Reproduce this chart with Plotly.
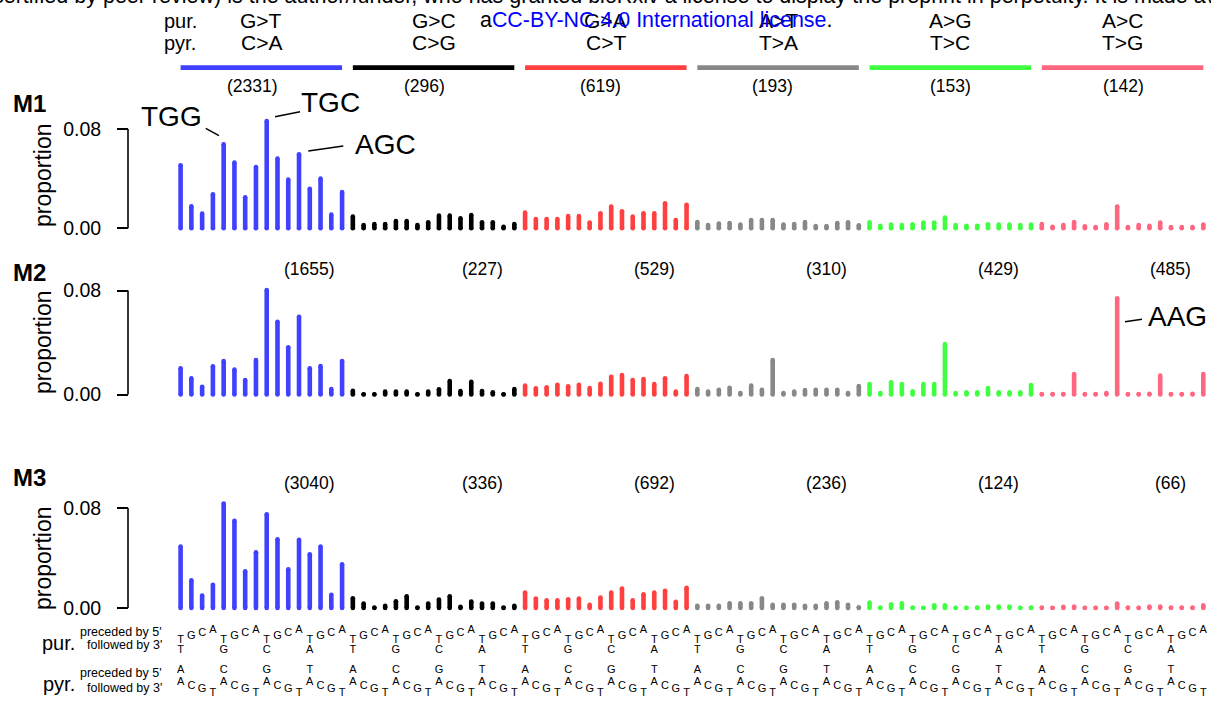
import plotly.graph_objects as go

W, H = 1211, 704

# ---------------- data ----------------
mut_pur = ["G>T", "G>C", "G>A", "A>T", "A>G", "A>C"]
mut_pyr = ["C>A", "C>G", "C>T", "T>A", "T>C", "T>G"]
group_colors = ["#4040FF", "#000000", "#FF4040", "#888888", "#40FF40", "#FF6680"]
bases_pur = ["T", "G", "C", "A"]
bases_pyr = ["A", "C", "G", "T"]

counts_M1 = [2331, 296, 619, 193, 153, 142]
counts_M2 = [1655, 227, 529, 310, 429, 485]
counts_M3 = [3040, 336, 692, 236, 124, 66]

M1_CA = [0.0508, 0.0177, 0.0118, 0.0274, 0.0677, 0.0529, 0.0250, 0.0494, 0.0865, 0.0561, 0.0392, 0.0596, 0.0319, 0.0400, 0.0110, 0.0293]
M1_CG = [0.0094, 0.0027, 0.0035, 0.0035, 0.0059, 0.0059, 0.0027, 0.0048, 0.0102, 0.0102, 0.0080, 0.0107, 0.0048, 0.0048, 0.0013, 0.0035]
M1_CT = [0.0126, 0.0075, 0.0075, 0.0075, 0.0099, 0.0099, 0.0046, 0.0121, 0.0175, 0.0137, 0.0094, 0.0121, 0.0120, 0.0201, 0.0067, 0.0190]
M1_TA = [0.0051, 0.0027, 0.0038, 0.0043, 0.0030, 0.0067, 0.0067, 0.0067, 0.0030, 0.0035, 0.0051, 0.0019, 0.0019, 0.0043, 0.0048, 0.0024]
M1_TC = [0.0048, 0.0021, 0.0030, 0.0027, 0.0032, 0.0046, 0.0046, 0.0086, 0.0027, 0.0021, 0.0021, 0.0032, 0.0030, 0.0030, 0.0027, 0.0030]
M1_TG = [0.0035, 0.0013, 0.0027, 0.0051, 0.0016, 0.0010, 0.0032, 0.0175, 0.0010, 0.0027, 0.0020, 0.0046, 0.0010, 0.0010, 0.0010, 0.0030]

M2_CA = [0.0202, 0.0125, 0.0060, 0.0217, 0.0258, 0.0191, 0.0112, 0.0265, 0.0804, 0.0560, 0.0363, 0.0598, 0.0202, 0.0219, 0.0042, 0.0258]
M2_CG = [0.0029, 0.0002, 0.0002, 0.0022, 0.0022, 0.0022, 0.0002, 0.0022, 0.0040, 0.0104, 0.0027, 0.0098, 0.0027, 0.0017, 0.0001, 0.0042]
M2_CT = [0.0068, 0.0048, 0.0055, 0.0075, 0.0063, 0.0075, 0.0050, 0.0083, 0.0137, 0.0150, 0.0112, 0.0119, 0.0081, 0.0125, 0.0022, 0.0142]
M2_TA = [0.0042, 0.0022, 0.0037, 0.0052, 0.0012, 0.0068, 0.0037, 0.0265, 0.0012, 0.0022, 0.0035, 0.0037, 0.0037, 0.0037, 0.0012, 0.0065]
M2_TC = [0.0081, 0.0012, 0.0094, 0.0081, 0.0025, 0.0081, 0.0081, 0.0388, 0.0012, 0.0017, 0.0017, 0.0050, 0.0017, 0.0017, 0.0017, 0.0073]
M2_TG = [0.0003, 0.0003, 0.0004, 0.0158, 0.0003, 0.0004, 0.0012, 0.0740, 0.0003, 0.0003, 0.0006, 0.0145, 0.0003, 0.0003, 0.0005, 0.0158]

M3_CA = [0.0492, 0.0222, 0.0100, 0.0186, 0.0836, 0.0698, 0.0294, 0.0446, 0.0750, 0.0550, 0.0310, 0.0546, 0.0430, 0.0492, 0.0106, 0.0350]
M3_CG = [0.0078, 0.0036, 0.0004, 0.0018, 0.0054, 0.0094, 0.0004, 0.0036, 0.0068, 0.0094, 0.0010, 0.0052, 0.0036, 0.0036, 0.0004, 0.0018]
M3_CT = [0.0124, 0.0076, 0.0062, 0.0062, 0.0070, 0.0076, 0.0026, 0.0084, 0.0124, 0.0156, 0.0062, 0.0110, 0.0124, 0.0138, 0.0050, 0.0162]
M3_TA = [0.0018, 0.0018, 0.0018, 0.0038, 0.0038, 0.0038, 0.0078, 0.0026, 0.0026, 0.0026, 0.0018, 0.0018, 0.0038, 0.0046, 0.0026, 0.0006]
M3_TC = [0.0044, 0.0004, 0.0030, 0.0038, 0.0004, 0.0002, 0.0022, 0.0022, 0.0002, 0.0002, 0.0004, 0.0012, 0.0012, 0.0012, 0.0002, 0.0004]
M3_TG = [0.0004, 0.0002, 0.0010, 0.0012, 0.0002, 0.0002, 0.0002, 0.0036, 0.0004, 0.0002, 0.0012, 0.0012, 0.0004, 0.0004, 0.0004, 0.0022]

M1 = [M1_CA, M1_CG, M1_CT, M1_TA, M1_TC, M1_TG]
M2 = [M2_CA, M2_CG, M2_CT, M2_TA, M2_TC, M2_TG]
M3 = [M3_CA, M3_CG, M3_CT, M3_TA, M3_TC, M3_TG]

panel_names = ["M1", "M2", "M3"]
panel_data = [M1, M2, M3]
panel_counts = [counts_M1, counts_M2, counts_M3]

# ---------------- geometry helpers ----------------
FONT = "Liberation Sans, Arial, Helvetica, sans-serif"
NARROW = "Liberation Sans Narrow, Arial Narrow, Liberation Sans, Arial, sans-serif"
X0_PX, DX_PX = 180.6, 10.765      # pixel centre of first bar, spacing


def px2x(px):
    return (px - X0_PX) / DX_PX


def xp(px):
    return px / W


def yp(py):
    return 1 - py / H


def note(x, y, text, size, xref="paper", xanchor="center", family=FONT, color="black", **kw):
    return dict(x=x, y=yp(y), xref=xref, yref="paper", text=text, showarrow=False,
                xanchor=xanchor, yanchor="middle",
                font=dict(family=family, size=size, color=color), **kw)


AXIS_X = 128.0
BAR_W = 4.6

# per panel: pixel of 0, pixel of 0.08, domain top/bottom pixel
panel_geom = [
    dict(p0=228.3, p8=129.0, top=88, bot=240, title_y=175, label_y=104, count_y=86),
    dict(p0=394.5, p8=290.5, top=255, bot=406, title_y=342, label_y=273, count_y=269),
    dict(p0=608.0, p8=508.0, top=470, bot=620, title_y=558, label_y=477, count_y=483),
]
count_px_M1 = [252, 424, 600, 772, 950, 1123]

fig = go.Figure()
layout = dict(
    width=W, height=H, margin=dict(l=0, r=0, t=0, b=0),
    paper_bgcolor="white", plot_bgcolor="rgba(0,0,0,0)",
    showlegend=False,
    xaxis=dict(domain=[0, 1], range=[px2x(0), px2x(W)], visible=False, fixedrange=True),
)
shapes = []
annotations = []

for k, (name, data, counts, g) in enumerate(zip(panel_names, panel_data, panel_counts, panel_geom)):
    yname = "y" if k == 0 else f"y{k+1}"
    akey = "yaxis" if k == 0 else f"yaxis{k+1}"
    kpx = (g["p0"] - g["p8"]) / 0.08
    layout[akey] = dict(
        domain=[yp(g["bot"]), yp(g["top"])],
        range=[(g["p0"] - g["bot"]) / kpx, (g["p0"] - g["top"]) / kpx],
        anchor="free", position=AXIS_X / W, side="left",
        tickvals=[0, 0.08], ticktext=["0.00", "0.08"],
        ticks="outside", ticklen=11, tickwidth=1.6, tickcolor="black",
        ticklabelstandoff=12,
        tickfont=dict(family=FONT, size=19.5, color="black"),
        showline=False, showgrid=False, zeroline=False, fixedrange=True,
    )
    shapes.append(dict(type="line", xref="paper", yref=yname, x0=AXIS_X / W, x1=AXIS_X / W,
                       y0=0, y1=0.08, line=dict(color="black", width=1.6)))
    for gi, vals in enumerate(data):
        xs, ys = [], []
        for j, v in enumerate(vals):
            i = 16 * gi + j
            xs += [i, i, None]
            ys += [0, v, None]
        fig.add_trace(go.Scatter(x=xs, y=ys, xaxis="x", yaxis=yname, mode="lines",
                                 line=dict(color=group_colors[gi], width=BAR_W),
                                 hoverinfo="skip", cliponaxis=False))
        mx = [x for x in xs if x is not None]
        my = [y for y in ys if y is not None]
        fig.add_trace(go.Scatter(x=mx, y=my, xaxis="x", yaxis=yname, mode="markers",
                                 marker=dict(color=group_colors[gi], size=BAR_W, line=dict(width=0)),
                                 hoverinfo="skip", cliponaxis=False))
        cx = px2x(count_px_M1[gi]) if k == 0 else 16 * gi + 12
        annotations.append(note(cx, g["count_y"], f"({counts[gi]})", 17.5, xref="x"))
    annotations.append(note(xp(11), g["label_y"], f"<b>{name}</b>", 24, xanchor="left"))
    annotations.append(note(xp(43), g["title_y"], "proportion", 23, textangle=-90))

# overlay pixel axis for header lines and context letters
layout["yaxis4"] = dict(domain=[0, 1], range=[H, 0], visible=False, anchor="x", fixedrange=True)

for gi in range(6):
    fig.add_trace(go.Scatter(x=[16 * gi, 16 * gi + 15], y=[67.7, 67.7], xaxis="x", yaxis="y4",
                             mode="lines", line=dict(color=group_colors[gi], width=4.7),
                             hoverinfo="skip", cliponaxis=False))
    annotations.append(note(16 * gi + 7.5, 21, mut_pur[gi], 21, xref="x"))
    annotations.append(note(16 * gi + 7.5, 43, mut_pyr[gi], 21, xref="x"))

annotations.append(note(xp(180), 21, "pur.", 20))
annotations.append(note(xp(180), 43, "pyr.", 20))

# context letters
stair_pur = [640.0, 636.7, 633.4, 630.0]
stair_pyr = [682.7, 686.0, 689.5, 693.3]
tx, ty, tt = [], [], []
for i in range(96):
    j = i // 4
    tx.append(i); ty.append(stair_pur[i % 4]); tt.append(bases_pur[i % 4])
    tx.append(i); ty.append(stair_pyr[i % 4]); tt.append(bases_pyr[i % 4])
    if i % 4 == 0:
        tx.append(i); ty.append(650.5); tt.append(bases_pur[j % 4])
        tx.append(i); ty.append(670.7); tt.append(bases_pyr[j % 4])
fig.add_trace(go.Scatter(x=tx, y=ty, text=tt, mode="text", xaxis="x", yaxis="y4",
                         textfont=dict(family=FONT, size=11, color="black"),
                         textposition="middle center", hoverinfo="skip", cliponaxis=False))

annotations += [
    note(xp(77), 643, "pur.", 20, xanchor="right"),
    note(xp(77), 684, "pyr.", 20, xanchor="right"),
    note(xp(164), 631.7, "preceded by 5'", 12.5, xanchor="right", family=NARROW),
    note(xp(164), 645, "followed by 3'", 12.5, xanchor="right", family=NARROW),
    note(xp(164), 672.7, "preceded by 5'", 12.5, xanchor="right", family=NARROW),
    note(xp(164), 688.3, "followed by 3'", 12.5, xanchor="right", family=NARROW),
]

# peak labels with leader lines
peak_labels = [("TGG", 171, 116.3, (205.7, 128.3, 219, 135.7)),
               ("TGC", 330.5, 102.7, (275, 116.7, 300, 111.7)),
               ("AGC", 386, 144, (308.3, 151, 343.3, 146)),
               ("AAG", 1177.5, 316.5, (1125, 321.7, 1142, 319.3))]
for txt, cx, cy, (x0, y0, x1, y1) in peak_labels:
    annotations.append(note(xp(cx), cy, txt, 28))
    shapes.append(dict(type="line", xref="paper", yref="paper", x0=xp(x0), y0=yp(y0),
                       x1=xp(x1), y1=yp(y1), line=dict(color="black", width=1.5)))

# bioRxiv banner (partially cut off at top)
annotations.append(note(xp(-9), -4,
                        "certified by peer review) is the author/funder, who has granted bioRxiv a license to display the preprint in perpetuity. It is made available under",
                        21.5, xanchor="left"))
annotations.append(note(xp(478), 19.7,
                        "a<span style='color:#0000FF'>CC-BY-NC 4.0 International license</span>.",
                        21.4, xanchor="left"))

layout["shapes"] = shapes
layout["annotations"] = annotations
fig.update_layout(**layout)
fig.write_html("out.html")
